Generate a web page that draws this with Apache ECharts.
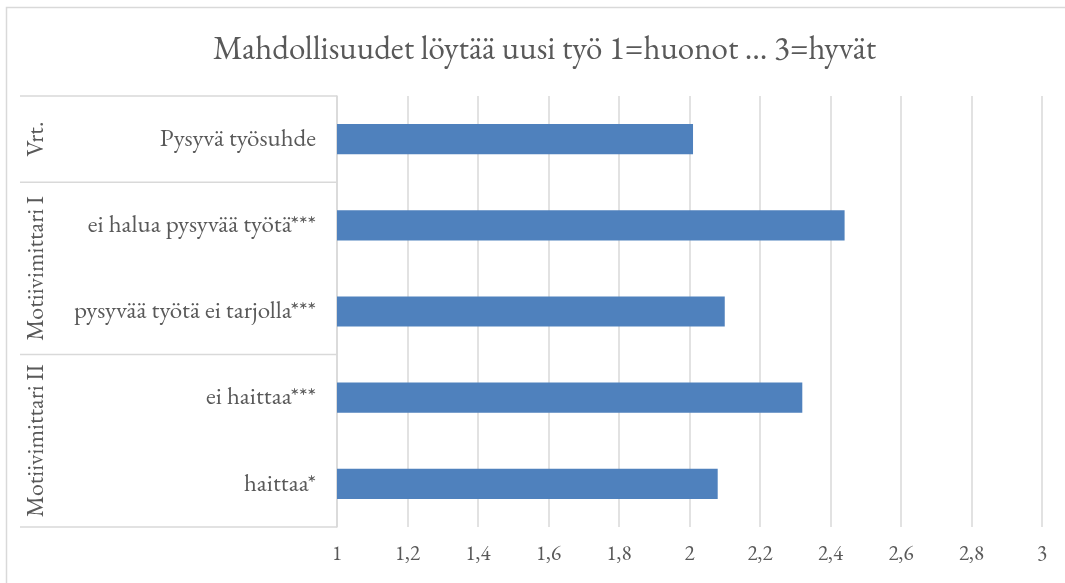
<!DOCTYPE html>
<html>
<head>
<meta charset="utf-8">
<script src="https://cdn.jsdelivr.net/npm/echarts@6/dist/echarts.min.js"></script>
<style>
  html, body { margin: 0; padding: 0; background: #fff; }
  #chart { width: 1065px; height: 583px; }
</style>
</head>
<body>
<div id="chart"></div>
<script>
// Title
const titleText = 'Mahdollisuudet löytää uusi työ 1=huonot … 3=hyvät';

// Categories (top to bottom) and their mean scores
const categories = [
  'Pysyvä työsuhde',
  'ei halua pysyvää työtä***',
  'pysyvää työtä ei tarjolla***',
  'ei haittaa***',
  'haittaa*'
];
const values = [2.01, 2.44, 2.10, 2.32, 2.08];

// Outer grouping of the categories: label and number of categories in each group
const groupNames = ['Vrt.', 'Motiivimittari I', 'Motiivimittari II'];
const groupSizes = [1, 2, 2];

// Value axis ticks
const axisMin = 1;
const axisMax = 3;
const axisStep = 0.2;

const textColor = '#595959';
const lineColor = '#d9d9d9';
const serif = '"EB Garamond", Garamond, "Liberation Serif", "DejaVu Serif", serif';

const chart = echarts.init(document.getElementById('chart'), null, { renderer: 'canvas' });

chart.setOption({
  animation: false,
  backgroundColor: '#ffffff',
  title: {
    text: titleText,
    left: 208,
    top: 29,
    textStyle: { fontFamily: serif, fontSize: 33, fontWeight: 'normal', color: textColor }
  },
  grid: { left: 337, right: 23, top: 96, bottom: 56, containLabel: false },
  xAxis: {
    type: 'value',
    min: axisMin,
    max: axisMax,
    interval: axisStep,
    axisLine: { show: false },
    axisTick: { show: false },
    splitLine: { show: true, lineStyle: { color: lineColor, width: 1.5 } },
    axisLabel: {
      margin: 17,
      fontFamily: serif,
      fontSize: 21,
      color: textColor,
      formatter: v => String(Math.round(v * 10) / 10).replace('.', ',')
    }
  },
  yAxis: {
    type: 'category',
    inverse: true,
    data: categories,
    axisLine: { show: true, lineStyle: { color: lineColor, width: 1.5 } },
    axisTick: { show: false },
    axisLabel: { margin: 21, fontFamily: serif, fontSize: 25, color: textColor }
  },
  series: [{
    type: 'bar',
    data: values,
    barWidth: '35%',
    itemStyle: { color: '#4F81BD' }
  }]
});

// Group separators and rotated group labels, placed from the category scale
function drawGroups() {
  const c0 = chart.convertToPixel({ yAxisIndex: 0 }, categories[0]);
  const c1 = chart.convertToPixel({ yAxisIndex: 0 }, categories[1]);
  const band = c1 - c0;
  const axisX = chart.convertToPixel({ xAxisIndex: 0 }, axisMin);
  const leftX = 20;
  const edge = i => c0 - band / 2 + i * band;

  const elements = [];
  // outer chart border
  elements.push({
    type: 'rect',
    shape: { x: 6.5, y: 7.5, width: 1100, height: 600 },
    style: { fill: null, stroke: lineColor, lineWidth: 1.5 },
    silent: true
  });

  let idx = 0;
  const bounds = [edge(0)];
  groupSizes.forEach(n => { idx += n; bounds.push(edge(idx)); });

  bounds.forEach(y => {
    elements.push({
      type: 'line',
      shape: { x1: leftX, y1: y, x2: axisX, y2: y },
      style: { stroke: lineColor, lineWidth: 1.5 },
      silent: true
    });
  });

  groupNames.forEach((name, i) => {
    const yMid = (bounds[i] + bounds[i + 1]) / 2;
    elements.push({
      type: 'text',
      x: 36,
      y: yMid,
      rotation: Math.PI / 2,
      style: {
        text: name,
        fill: textColor,
        font: '24px ' + serif,
        align: 'center',
        verticalAlign: 'middle'
      },
      silent: true
    });
  });

  chart.setOption({ graphic: { elements } });
}
drawGroups();
</script>
</body>
</html>
